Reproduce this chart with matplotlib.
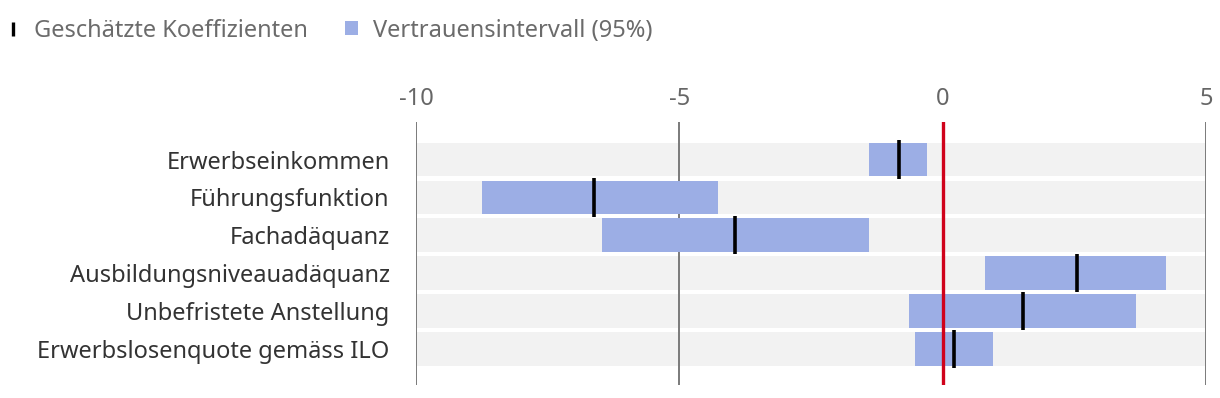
import numpy as np
import matplotlib
matplotlib.use("Agg")
import matplotlib.pyplot as plt
from matplotlib.lines import Line2D
from matplotlib.patches import Patch

plt.rcParams['font.family'] = ['Noto Sans', 'DejaVu Sans']

labels = ["Erwerbseinkommen", "Führungsfunktion", "Fachadäquanz",
          "Ausbildungsniveauadäquanz", "Unbefristete Anstellung",
          "Erwerbslosenquote gemäss ILO"]
coef = [-0.83, -6.62, -3.94, 2.55, 1.52, 0.22]
ci_low = [-1.39, -8.74, -6.46, 0.81, -0.64, -0.52]
ci_high = [-0.30, -4.27, -1.39, 4.25, 3.68, 0.95]
xticks = [-10, -5, 0, 5]

blue = "#9caee5"
band = "#f2f2f2"
red = "#d0021b"

fig = plt.figure(figsize=(12.2, 3.98), dpi=100)
ax = fig.add_axes([0.341, 0.0327, 0.6475, 0.6608])

y = np.arange(len(labels))
h = 0.89
ax.set_xlim(-10, 5)
ax.set_ylim(5.95, -0.99)

# grey row bands across the whole axis
ax.barh(y, 15, left=-10, height=h, color=band, zorder=1)
for t in xticks:
    ax.axvline(t, color="#7a7a7a", lw=1.4, zorder=2)
ax.barh(y, np.array(ci_high) - np.array(ci_low), left=ci_low, height=h,
        color=blue, zorder=3)
ax.axvline(0, color=red, lw=2.4, zorder=4)
for yi, c in zip(y, coef):
    ax.plot([c, c], [yi - h / 2 - 0.06, yi + h / 2 + 0.06], color="black",
            lw=2.6, solid_capstyle="butt", zorder=5)

ax.xaxis.tick_top()
ax.set_xticks(xticks)
ax.set_xticklabels([str(t) for t in xticks])
ax.tick_params(axis="x", length=0, pad=8, labelsize=17, labelcolor="#666666")
ax.set_yticks(y)
ax.set_yticklabels(labels)
ax.tick_params(axis="y", length=0, pad=19, labelsize=17, labelcolor="#333333")
for s in ax.spines.values():
    s.set_visible(False)

handles = [Line2D([], [], color="black", marker="|", linestyle="none",
                  markersize=9.5, markeredgewidth=2.4),
           Patch(facecolor=blue, edgecolor="none")]
fig.legend(handles, ["Geschätzte Koeffizienten", "Vertrauensintervall (95%)"],
           loc="upper left", bbox_to_anchor=(0.0016, 0.965), ncol=2,
           frameon=False, fontsize=17, labelcolor="#6b6b6b",
           handlelength=0.55, handleheight=0.55, handletextpad=0.6,
           columnspacing=1.6, borderaxespad=0.0, borderpad=0.2)

fig.savefig("out.png", dpi=100)
